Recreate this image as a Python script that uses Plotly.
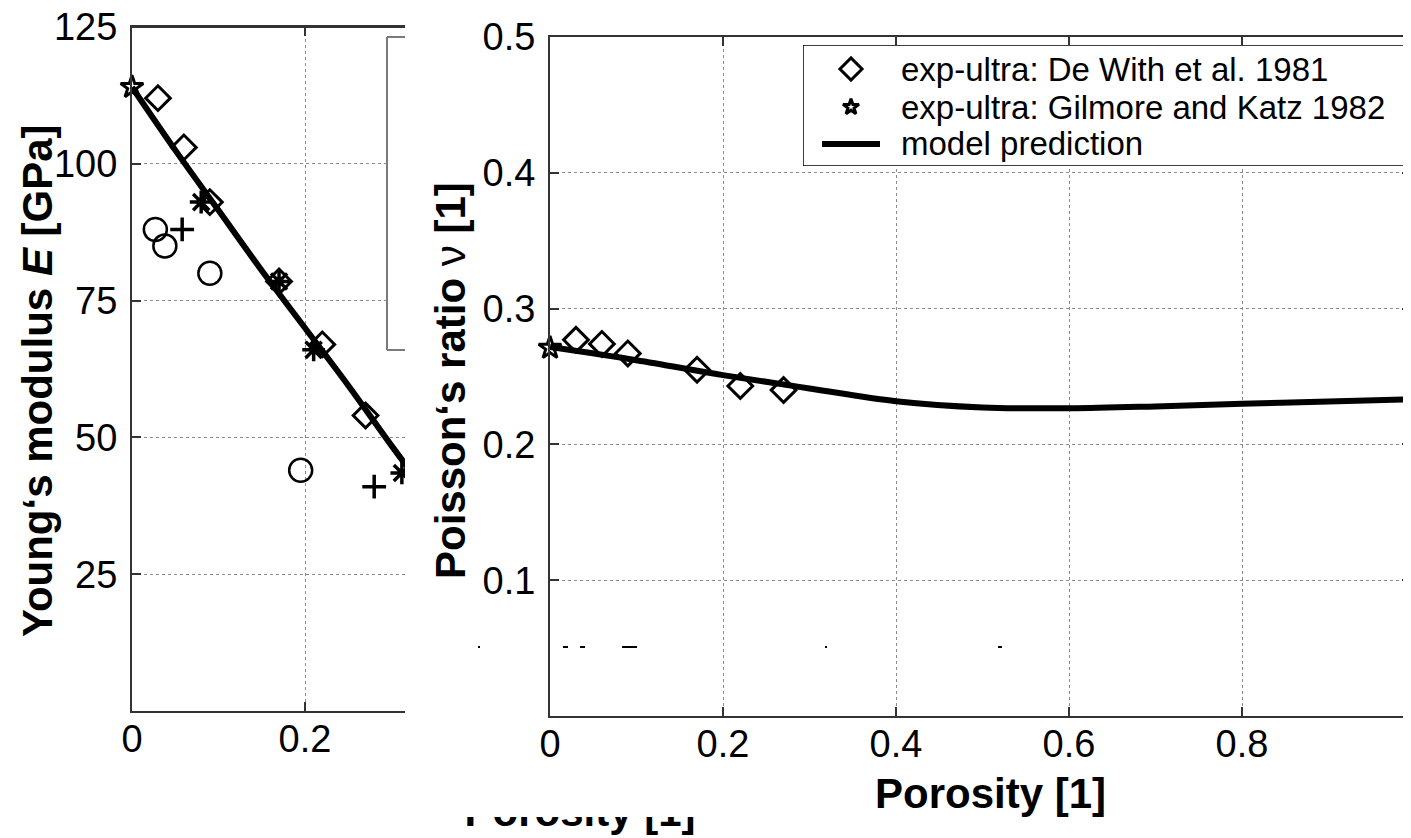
import plotly.graph_objects as go

FONT = "Liberation Sans, Arial, sans-serif"

# ---------------- data: left panel (Young's modulus) ----------------
E_model_x = [0, 0.05, 0.10, 0.15, 0.20, 0.25, 0.30, 0.35, 0.40]
E_model_y = [114, 102.5, 91.5, 80.5, 70, 59.5, 48.5, 38, 28]

E_dewith_x = [0.03, 0.06, 0.09, 0.17, 0.22, 0.27]
E_dewith_y = [112, 103, 93, 78.5, 67, 54]

E_gilmore_x = [0.0]
E_gilmore_y = [114]

E_circle_x = [0.027, 0.038, 0.09, 0.195]
E_circle_y = [88, 85, 80, 44]

E_plus_x = [0.058, 0.28]
E_plus_y = [88, 41]

E_aster_x = [0.08, 0.17, 0.21, 0.312]
E_aster_y = [93, 78.5, 66, 43.5]

E_yticks = [25, 50, 75, 100, 125]
E_xticks = [0, 0.2]
E_xticklabels = ["0", "0.2"]

# ---------------- data: right panel (Poisson's ratio) ----------------
nu_model_x = [0, 0.1, 0.2, 0.3, 0.4, 0.5, 0.6, 0.7, 0.8, 0.9, 1.0]
nu_model_y = [0.2717, 0.2620, 0.2510, 0.2412, 0.2318, 0.2272, 0.2266, 0.2280, 0.2300, 0.2316, 0.2334]

nu_dewith_x = [0.03, 0.06, 0.09, 0.17, 0.22, 0.27]
nu_dewith_y = [0.277, 0.274, 0.267, 0.255, 0.243, 0.240]

nu_gilmore_x = [0.0]
nu_gilmore_y = [0.271]

nu_yticks = [0.1, 0.2, 0.3, 0.4, 0.5]
nu_yticklabels = ["0.1", "0.2", "0.3", "0.4", "0.5"]
nu_xticks = [0, 0.2, 0.4, 0.6, 0.8]
nu_xticklabels = ["0", "0.2", "0.4", "0.6", "0.8"]

legend_names = ["exp-ultra: De With et al. 1981",
                "exp-ultra: Gilmore and Katz 1982",
                "model prediction"]

# ---------------- layout geometry (page pixels) ----------------
OFF = 8                     # default body margin of the html page
PAGE_W, PAGE_H = 1411, 838
W, H = PAGE_W - OFF, PAGE_H - OFF


def px(x):
    return (x - OFF) / W


def py(y):
    return 1 - (y - OFF) / H


L_x0, L_x1 = 132, 405      # left panel visible plot area
L_y0, L_y1 = 27, 711
L_unit = 865               # px per porosity unit
R_x0, R_x1 = 550, 1411
R_y0, R_y1 = 37, 716
CLIP_TOP = 817
CLIP_X0, CLIP_X1 = 430, 730

LEG_X0, LEG_X1, LEG_Y0, LEG_Y1 = 803, 1405, 45, 166
LEG_ROWS = [69, 107, 144]
LEG_SYM_X = 851
LEG_TXT_X = 899

fig = go.Figure()

line_kw = dict(color="black", width=6)


def mk(sym, size, lw):
    return dict(symbol=sym, size=size, color="black", line=dict(width=lw, color="black"))


# left panel traces
fig.add_trace(go.Scatter(x=E_model_x, y=E_model_y, mode="lines", line=line_kw,
                         showlegend=False, xaxis="x", yaxis="y", line_shape="spline"))
fig.add_trace(go.Scatter(x=E_circle_x, y=E_circle_y, mode="markers", showlegend=False,
                         marker=mk("circle-open", 23, 2.5), xaxis="x", yaxis="y"))
fig.add_trace(go.Scatter(x=E_plus_x, y=E_plus_y, mode="markers", showlegend=False,
                         marker=mk("cross-thin-open", 17, 3.5), xaxis="x", yaxis="y"))
fig.add_trace(go.Scatter(x=E_aster_x, y=E_aster_y, mode="markers", showlegend=False,
                         marker=mk("asterisk-open", 19, 3.5), xaxis="x", yaxis="y"))
fig.add_trace(go.Scatter(x=E_dewith_x, y=E_dewith_y, mode="markers", showlegend=False,
                         marker=mk("diamond-open", 19, 3), xaxis="x", yaxis="y"))
fig.add_trace(go.Scatter(x=E_gilmore_x, y=E_gilmore_y, mode="markers", showlegend=False,
                         marker=mk("star-open", 17, 3), xaxis="x", yaxis="y", cliponaxis=False))

# right panel traces
fig.add_trace(go.Scatter(x=nu_dewith_x, y=nu_dewith_y, mode="markers", showlegend=False,
                         name=legend_names[0], marker=mk("diamond-open", 19, 3),
                         xaxis="x2", yaxis="y2"))
fig.add_trace(go.Scatter(x=nu_gilmore_x, y=nu_gilmore_y, mode="markers", showlegend=False,
                         name=legend_names[1], marker=mk("star-open", 17, 3),
                         xaxis="x2", yaxis="y2", cliponaxis=False))
fig.add_trace(go.Scatter(x=nu_model_x, y=nu_model_y, mode="lines", showlegend=False,
                         name=legend_names[2], line=line_kw, line_shape="spline",
                         xaxis="x2", yaxis="y2"))

# small pixel-space subplot clipping the partly covered left x-label
fig.add_trace(go.Scatter(x=[580], y=[CLIP_TOP - 1.5], mode="text", text=["<b>Porosity [1]</b>"],
                         textfont=dict(family=FONT, size=42, color="black"),
                         textposition="middle center", showlegend=False,
                         xaxis="x3", yaxis="y3", cliponaxis=True, hoverinfo="skip"))

# hand-drawn legend of the right panel (pixel-space subplot covering the legend box)
fig.add_trace(go.Scatter(x=[LEG_SYM_X], y=[LEG_ROWS[0]], mode="markers", showlegend=False,
                         marker=mk("diamond-open", 17, 3), xaxis="x4", yaxis="y4",
                         hoverinfo="skip", cliponaxis=False))
fig.add_trace(go.Scatter(x=[LEG_SYM_X], y=[LEG_ROWS[1]], mode="markers", showlegend=False,
                         marker=mk("star-open", 12, 3), xaxis="x4", yaxis="y4",
                         hoverinfo="skip", cliponaxis=False))
fig.add_trace(go.Scatter(x=[LEG_SYM_X - 29, LEG_SYM_X + 29], y=[LEG_ROWS[2], LEG_ROWS[2]],
                         mode="lines", showlegend=False, line=dict(color="black", width=6),
                         xaxis="x4", yaxis="y4", hoverinfo="skip", cliponaxis=False))

axis_common = dict(
    showline=True, linecolor="#333333", linewidth=2,
    ticks="inside", ticklen=9, tickwidth=1.5, tickcolor="#333333",
    showgrid=True, gridcolor="#8c8c8c", gridwidth=1, griddash="dot",
    zeroline=False, tickfont=dict(family=FONT, size=38, color="black"),
    automargin=False, ticklabeloverflow="allow",
)
pix_axis = dict(visible=False, fixedrange=True, showgrid=False, zeroline=False)

fig.update_layout(
    width=W, height=H,
    margin=dict(l=0, r=0, t=0, b=0),
    paper_bgcolor="white", plot_bgcolor="rgba(0,0,0,0)",
    font=dict(family=FONT, color="black"),
    showlegend=False,
    xaxis=dict(axis_common, domain=[px(L_x0), px(L_x1)], anchor="y",
               range=[0, (L_x1 - L_x0) / L_unit], tickvals=E_xticks, ticktext=E_xticklabels,
               mirror="ticks", ticklabelstandoff=-7),
    yaxis=dict(axis_common, domain=[py(L_y1), py(L_y0)], anchor="x",
               range=[0, 125], tickvals=E_yticks, ticklabelstandoff=5, mirror=False),
    xaxis2=dict(axis_common, domain=[px(R_x0), 1], anchor="y2",
                range=[0, (R_x1 - R_x0) / L_unit], tickvals=nu_xticks, ticktext=nu_xticklabels,
                mirror="ticks", ticklabelstandoff=-7),
    yaxis2=dict(axis_common, domain=[py(R_y1), py(R_y0)], anchor="x2",
                range=[0, 0.5], tickvals=nu_yticks, ticktext=nu_yticklabels,
                ticklabelstandoff=5, mirror="ticks"),
    xaxis3=dict(pix_axis, domain=[px(CLIP_X0), px(CLIP_X1)], anchor="y3", range=[CLIP_X0, CLIP_X1]),
    yaxis3=dict(pix_axis, domain=[0, py(CLIP_TOP)], anchor="x3", range=[PAGE_H, CLIP_TOP]),
    xaxis4=dict(pix_axis, domain=[px(LEG_X0), px(LEG_X1)], anchor="y4", range=[LEG_X0, LEG_X1]),
    yaxis4=dict(pix_axis, domain=[py(LEG_Y1), py(LEG_Y0)], anchor="x4", range=[LEG_Y1, LEG_Y0]),
)

annotations = [
    dict(text="<b>Young‘s modulus <i>E</i> [GPa]</b>", x=px(37), y=py(381), textangle=-90,
         font=dict(family=FONT, size=42, color="black")),
    dict(text="<b>Poisson‘s ratio </b>ν<b> [1]</b>", x=px(450), y=py(381), textangle=-90,
         font=dict(family=FONT, size=42, color="black")),
    dict(text="<b>Porosity [1]</b>", x=px(990), y=py(793),
         font=dict(family=FONT, size=42, color="black")),
    dict(text="1", x=px(1416), y=py(740), font=dict(family=FONT, size=38, color="black")),
]
for a in annotations:
    a.update(xref="paper", yref="paper", showarrow=False, xanchor="center", yanchor="middle")
for name, yrow in zip(legend_names, LEG_ROWS):
    annotations.append(dict(text=name, x=px(LEG_TXT_X), y=py(yrow), xref="paper", yref="paper",
                            showarrow=False, xanchor="left", yanchor="middle",
                            font=dict(family=FONT, size=33, color="black")))
fig.update_layout(annotations=annotations)

shapes = [
    # legend frame of the right panel (below the legend symbols)
    dict(type="rect", xref="x4", yref="y4", x0=LEG_X0, x1=LEG_X1, y0=LEG_Y0, y1=LEG_Y1,
         fillcolor="white", line=dict(color="black", width=1.5), layer="below"),
    # top frame line of the left panel
    dict(type="line", xref="paper", yref="paper", x0=px(L_x0), x1=px(L_x1), y0=py(L_y0), y1=py(L_y0),
         line=dict(color="#333333", width=2), layer="above"),
    # remnant of the left panel's legend box (covered by the right panel)
    dict(type="rect", xref="paper", yref="paper", x0=px(387), x1=px(405), y0=py(350), y1=py(37),
         fillcolor="white", line=dict(width=0), layer="above"),
    dict(type="line", xref="paper", yref="paper", x0=px(387), x1=px(387), y0=py(350), y1=py(37),
         line=dict(color="#7a7a7a", width=2), layer="above"),
    dict(type="line", xref="paper", yref="paper", x0=px(387), x1=px(405), y0=py(37), y1=py(37),
         line=dict(color="#7a7a7a", width=2), layer="above"),
    dict(type="line", xref="paper", yref="paper", x0=px(387), x1=px(405), y0=py(350), y1=py(350),
         line=dict(color="#7a7a7a", width=2), layer="above"),
]
# small stray fragments in the right panel
for a, b in [(478, 480), (563, 568), (580, 585), (622, 637), (825, 827), (998, 1002)]:
    shapes.append(dict(type="line", xref="paper", yref="paper", x0=px(a), x1=px(b),
                       y0=py(647), y1=py(647), line=dict(color="black", width=2), layer="above"))
fig.update_layout(shapes=shapes)

fig.write_html("out.html")
